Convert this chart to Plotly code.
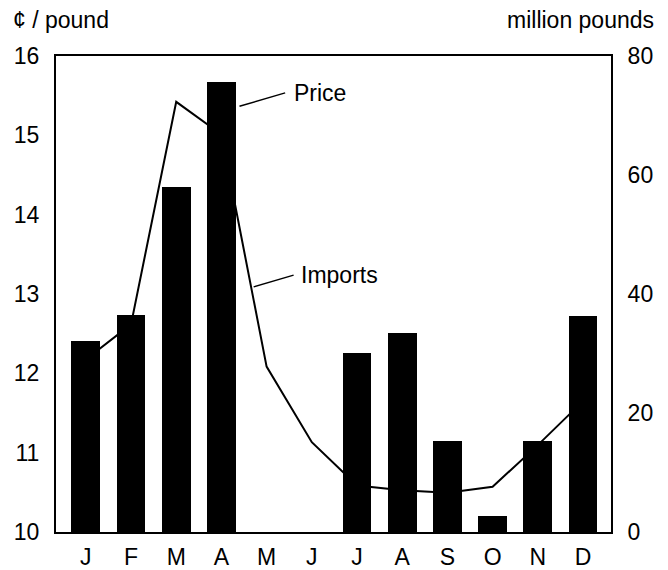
import plotly.graph_objects as go

months = ["J", "F", "M", "A", "M", "J", "J", "A", "S", "O", "N", "D"]
price_cents = [12.41, 12.74, 14.35, 15.67, None, None, 12.26, 12.51, 11.15, 10.2, 11.15, 12.72]
imports_mlb = [29.0, 34.9, 72.3, 66.8, 27.8, 15.1, 7.8, 7.0, 6.6, 7.6, 14.6, 22.0]
left_ticks = [10, 11, 12, 13, 14, 15, 16]
right_ticks = [0, 20, 40, 60, 80]

FONT = "Liberation Sans, Arial, Helvetica, sans-serif"
FS = 23
idx = list(range(len(months)))

fig = go.Figure()
# line on base axis (drawn below), right side scale
fig.add_trace(go.Scatter(x=idx, y=imports_mlb, mode="lines",
                         line=dict(color="black", width=2), yaxis="y",
                         showlegend=False, hoverinfo="skip"))
# bars on overlaying axis (drawn above), left side scale
fig.add_trace(go.Bar(x=idx, y=price_cents, width=0.64,
                     marker=dict(color="black", line=dict(width=0)),
                     yaxis="y2", showlegend=False))

# page body has an 8px default margin, so the figure is 8px smaller
fig.update_layout(
    width=660, height=562,
    margin=dict(l=47.5, r=57, t=48, b=38, autoexpand=False),
    paper_bgcolor="white", plot_bgcolor="white",
    font=dict(family=FONT, size=FS, color="black"),
    xaxis=dict(range=[-0.66, 11.62], tickmode="array", tickvals=idx, ticktext=months,
               showgrid=False, zeroline=False, showline=True, linecolor="black",
               linewidth=2, mirror=True, ticks="", ticklabelstandoff=3, automargin=False),
    yaxis=dict(range=[0, 80], side="right", tickvals=right_ticks, showgrid=False,
               zeroline=False, showline=True, linecolor="black", linewidth=2,
               ticks="", ticklabelstandoff=10, automargin=False),
    yaxis2=dict(range=[10, 16], side="left", overlaying="y", tickvals=left_ticks,
                showgrid=False, zeroline=False, showline=True, linecolor="black",
                linewidth=2, ticks="", ticklabelstandoff=10, automargin=False),
    bargap=0,
)

fig.add_annotation(text="¢ / pound", xref="paper", yref="paper", x=-0.081, y=1.075,
                   xanchor="left", yanchor="middle", showarrow=False)
fig.add_annotation(text="million pounds", xref="paper", yref="paper", x=1.081, y=1.075,
                   xanchor="right", yanchor="middle", showarrow=False)

fig.add_shape(type="line", xref="x", yref="y2", x0=3.40, y0=15.366, x1=4.41, y1=15.535,
              line=dict(color="black", width=1.5))
fig.add_shape(type="line", xref="x", yref="y2", x0=3.713, y0=13.09, x1=4.597, y1=13.238,
              line=dict(color="black", width=1.5))
fig.add_annotation(text="Price", xref="x", yref="y2", x=4.56, y=15.53,
                   xanchor="left", yanchor="middle", showarrow=False)
fig.add_annotation(text="Imports", xref="x", yref="y2", x=4.715, y=13.238,
                   xanchor="left", yanchor="middle", showarrow=False)

fig.write_html("out.html")
